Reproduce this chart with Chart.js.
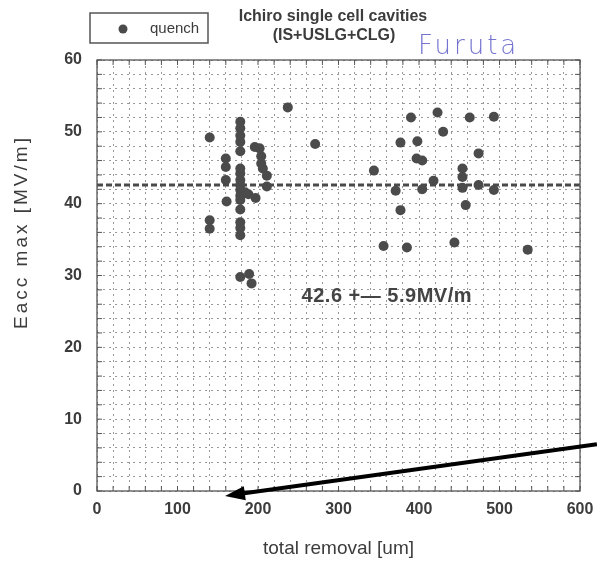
<!DOCTYPE html>
<html>
<head>
<meta charset="utf-8">
<script src="https://cdn.jsdelivr.net/npm/chart.js@4"></script>
<style>
  html, body { margin: 0; padding: 0; background: #fff; }
</style>
</head>
<body>
<canvas id="myChart" width="597" height="564"></canvas>
<script>
// total removal [um] and Eacc max [MV/m] for each quenched cavity
const removal = [
  140, 140, 140,
  160, 160, 160, 161,
  178, 178, 178, 178, 178, 178, 178, 178, 178, 178, 178, 178, 178, 178, 178, 178, 178,
  184, 188, 197,
  196, 202, 204, 204, 206, 211, 211,
  189, 192,
  237, 271,
  344, 356, 371, 377, 377, 385, 390, 398, 397, 404, 404, 418, 423, 430, 444,
  454, 454, 454, 458, 463, 474, 474, 493, 493, 535
];
const eacc = [
  49.2, 37.7, 36.5,
  46.3, 45.1, 43.3, 40.3,
  51.4, 50.5, 49.5, 48.6, 47.3, 44.9, 44.2, 43.3, 42.6, 41.9, 41.1, 40.5, 39.2, 37.4, 36.6, 35.6, 29.8,
  41.6, 41.3, 40.8,
  47.9, 47.7, 46.6, 45.6, 44.9, 43.9, 42.4,
  30.2, 28.9,
  53.4, 48.3,
  44.6, 34.1, 41.8, 39.1, 48.5, 33.9, 52.0, 48.7, 46.3, 46.0, 42.0, 43.2, 52.7, 50.0, 34.6,
  44.9, 43.7, 42.2, 39.8, 52.0, 47.0, 42.6, 52.1, 41.9, 33.6
];

const meanEacc = 42.6;
const spreadEacc = 5.9;
const xRange = [0, 600];
const yRange = [0, 60];

const textColor = "#3c3c3c";

// Hand drawn arrow on the scan, in data units (tail, tip)
const arrowFrom = { x: 621, y: 6.5 };
const arrowTo = { x: 159, y: -0.7 };

const extras = {
  id: "extras",
  afterDraw(chart) {
    const ctx = chart.ctx;
    const xs = chart.scales.x;
    const ys = chart.scales.y;
    const a = chart.chartArea;
    ctx.save();

    // frame with inward ticks
    ctx.setLineDash([]);
    ctx.strokeStyle = "#555";
    ctx.lineWidth = 1.3;
    ctx.strokeRect(a.left, a.top, a.right - a.left, a.bottom - a.top);
    ctx.lineWidth = 1;
    ctx.beginPath();
    xs.ticks.forEach(t => {
      const px = xs.getPixelForValue(t.value);
      ctx.moveTo(px, a.bottom); ctx.lineTo(px, a.bottom - 5);
      ctx.moveTo(px, a.top); ctx.lineTo(px, a.top + 5);
    });
    ys.ticks.forEach(t => {
      const py = ys.getPixelForValue(t.value);
      ctx.moveTo(a.left, py); ctx.lineTo(a.left + 5, py);
      ctx.moveTo(a.right, py); ctx.lineTo(a.right - 5, py);
    });
    ctx.stroke();

    // legend box
    ctx.strokeStyle = "#555";
    ctx.lineWidth = 1.5;
    ctx.strokeRect(90, 13, 118, 30);
    ctx.fillStyle = "#4b4b4b";
    ctx.beginPath();
    ctx.arc(123, 29, 4.5, 0, Math.PI * 2);
    ctx.fill();
    ctx.fillStyle = textColor;
    ctx.font = '15px "Liberation Sans"';
    ctx.textAlign = "left";
    ctx.textBaseline = "middle";
    ctx.fillText(chart.data.datasets[0].label, 150, 29);

    // title
    ctx.font = 'bold 16px "Liberation Sans"';
    ctx.textAlign = "center";
    ctx.fillText("Ichiro single cell cavities", 333, 17);
    ctx.fillText("(IS+USLG+CLG)", 334, 36);

    // handwritten name
    ctx.fillStyle = "#7474d0";
    ctx.font = '200 26px "DejaVu Sans"';
    ctx.letterSpacing = "3px";
    ctx.textAlign = "left";
    ctx.fillText("Furuta", 418, 47);
    ctx.letterSpacing = "0px";

    // mean annotation
    ctx.fillStyle = "#444";
    ctx.font = 'bold 20px "Liberation Sans"';
    ctx.letterSpacing = "0.5px";
    ctx.textAlign = "center";
    ctx.fillText(meanEacc + " +\u2014 " + spreadEacc + "MV/m", xs.getPixelForValue(360), ys.getPixelForValue(27.1));

    // y axis title
    ctx.letterSpacing = "3px";
    ctx.font = '19px "Liberation Sans"';
    ctx.fillStyle = textColor;
    ctx.translate(22, 232);
    ctx.rotate(-Math.PI / 2);
    ctx.fillText("Eacc max [MV/m]", 0, 0);
    ctx.setTransform(1, 0, 0, 1, 0, 0);
    ctx.letterSpacing = "0px";

    // arrow
    const x1 = xs.getPixelForValue(arrowFrom.x), y1 = ys.getPixelForValue(arrowFrom.y);
    const x2 = xs.getPixelForValue(arrowTo.x), y2 = ys.getPixelForValue(arrowTo.y);
    const ang = Math.atan2(y2 - y1, x2 - x1);
    ctx.strokeStyle = "#000";
    ctx.fillStyle = "#000";
    ctx.lineWidth = 4;
    ctx.beginPath();
    ctx.moveTo(x1, y1);
    ctx.lineTo(x2 - 14 * Math.cos(ang), y2 - 14 * Math.sin(ang));
    ctx.stroke();
    ctx.beginPath();
    ctx.moveTo(x2, y2);
    ctx.lineTo(x2 - 20 * Math.cos(ang) + 7 * Math.sin(ang), y2 - 20 * Math.sin(ang) - 7 * Math.cos(ang));
    ctx.lineTo(x2 - 20 * Math.cos(ang) - 7 * Math.sin(ang), y2 - 20 * Math.sin(ang) + 7 * Math.cos(ang));
    ctx.closePath();
    ctx.fill();

    ctx.restore();
  }
};

const data = {
  datasets: [
    {
      label: "quench",
      type: "scatter",
      data: removal.map((r, i) => ({ x: r, y: eacc[i] })),
      backgroundColor: "#4b4b4b",
      borderWidth: 0,
      pointRadius: 5,
      order: 0,
    },
    {
      label: "mean",
      type: "line",
      data: [{ x: xRange[0], y: meanEacc }, { x: xRange[1], y: meanEacc }],
      borderColor: "#4a4a4a",
      borderWidth: 3,
      borderDash: [6, 3],
      pointRadius: 0,
      order: 1,
    },
  ],
};

const config = {
  type: "scatter",
  data: data,
  options: {
    responsive: false,
    animation: false,
    layout: { padding: { top: 60, right: 17, left: 0, bottom: 0 } },
    plugins: { legend: { display: false }, tooltip: { enabled: false } },
    scales: {
      x: {
        type: "linear",
        min: xRange[0],
        max: xRange[1],
        afterFit: s => { s.height = 73; s.paddingRight = 0; s.paddingLeft = 0; },
        ticks: {
          stepSize: 20,
          maxTicksLimit: 40,
          autoSkip: false,
          maxRotation: 0,
          padding: 9,
          color: textColor,
          font: { family: "Liberation Sans", size: 16, weight: "bold" },
          callback: v => (v % 100 === 0 ? v : ""),
        },
        grid: { color: "#999", lineWidth: 1, drawTicks: false },
        border: { display: false, dash: [2, 4] },
        title: {
          display: true,
          text: "total removal [um]",
          color: textColor,
          font: { family: "Liberation Sans", size: 19 },
          padding: { top: 0, bottom: 4 },
        },
      },
      y: {
        min: yRange[0],
        max: yRange[1],
        afterFit: s => { s.width = 97; s.paddingTop = 0; s.paddingBottom = 0; },
        ticks: {
          stepSize: 2,
          maxTicksLimit: 40,
          autoSkip: false,
          padding: 15,
          color: textColor,
          font: { family: "Liberation Sans", size: 16, weight: "bold" },
          callback: v => (v % 10 === 0 ? v : ""),
        },
        grid: { color: "#999", lineWidth: 1, drawTicks: false },
        border: { display: false, dash: [2, 4] },
      },
    },
  },
  plugins: [extras],
};

const myChart = new Chart(document.getElementById("myChart"), config);
</script>
</body>
</html>
